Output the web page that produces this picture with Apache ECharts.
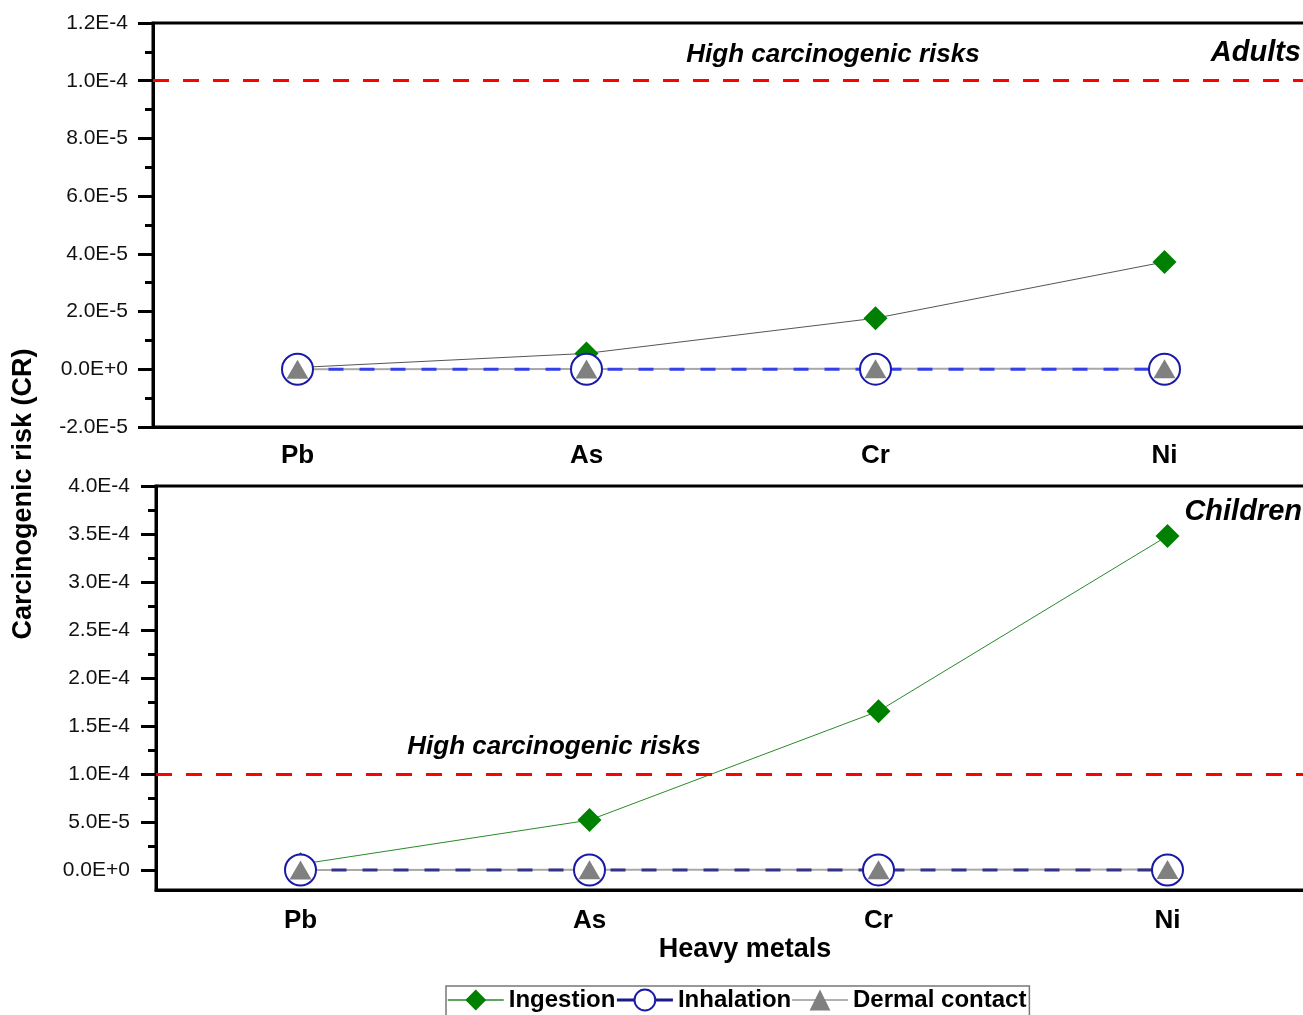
<!DOCTYPE html>
<html>
<head>
<meta charset="utf-8">
<script src="https://cdn.jsdelivr.net/npm/echarts@6/dist/echarts.min.js"></script>
<style>html,body{margin:0;padding:0;background:#fff;}#c{width:1303px;height:1015px;}</style>
</head>
<body>
<div id="c"></div>
<script>
// ---- data ----
const categories = ['Pb', 'As', 'Cr', 'Ni'];
const adultIngestion = [6e-7, 5.5e-6, 1.77e-5, 3.72e-5];
const adultInhalation = [1e-8, 2e-8, 3e-8, 2e-8];
const adultDermal = [5e-8, 1e-7, 1.5e-7, 2e-7];
const childIngestion = [6e-6, 5.2e-5, 1.655e-4, 3.48e-4];
const childInhalation = [2e-8, 5e-8, 8e-8, 6e-8];
const childDermal = [1e-7, 3e-7, 4e-7, 5e-7];
const threshold = 1e-4;
const adultTicks = [-2e-5, 0, 2e-5, 4e-5, 6e-5, 8e-5, 1e-4, 1.2e-4];
const adultMinorTicks = [-1e-5, 1e-5, 3e-5, 5e-5, 7e-5, 9e-5, 1.1e-4];
const childTicks = [0, 5e-5, 1e-4, 1.5e-4, 2e-4, 2.5e-4, 3e-4, 3.5e-4, 4e-4];
const childMinorTicks = [2.5e-5, 7.5e-5, 1.25e-4, 1.75e-4, 2.25e-4, 2.75e-4, 3.25e-4, 3.75e-4];

const FONT = '"Liberation Sans", Arial, sans-serif';
const fmt = v => Number(v).toExponential(1).toUpperCase();

function xAxes(gridIndex, margin) {
  return [
    {
      type: 'category', gridIndex, data: categories, position: 'bottom',
      axisLine: { onZero: false, lineStyle: { color: '#000', width: 3 } },
      axisTick: { alignWithLabel: true, length: 12, lineStyle: { color: '#000', width: 3 } },
      axisLabel: { margin, color: '#000', fontSize: 26, fontWeight: 'bold', fontFamily: FONT },
      splitLine: { show: false }
    },
    {
      type: 'category', gridIndex, data: categories, position: 'bottom',
      axisLine: { show: false, onZero: false },
      axisTick: { alignWithLabel: false, length: 6, lineStyle: { color: '#000', width: 3 } },
      axisLabel: { show: false },
      splitLine: { show: false }
    }
  ];
}
function yAxes(gridIndex, min, max, ticks, minor, margin) {
  return [
    {
      type: 'value', gridIndex, min, max, position: 'left',
      axisLine: { show: true, onZero: false, lineStyle: { color: '#000', width: 3 } },
      axisTick: { show: true, length: 15, customValues: ticks, lineStyle: { color: '#000', width: 3 } },
      axisLabel: { customValues: ticks, margin, color: '#111', fontSize: 21, fontFamily: FONT, formatter: fmt },
      splitLine: { show: false }
    },
    {
      type: 'value', gridIndex, min, max, position: 'left', offset: 0,
      axisLine: { show: false, onZero: false },
      axisTick: { show: true, length: 8, customValues: minor, lineStyle: { color: '#000', width: 3 } },
      axisLabel: { show: false },
      splitLine: { show: false }
    }
  ];
}

const redLine = () => ({
  silent: true, precision: 12, symbol: ['none', 'none'], label: { show: false },
  lineStyle: { color: '#ff0000', width: 3, type: [16, 14] },
  data: [{ yAxis: threshold }]
});

const diamond = () => ({ symbol: 'diamond', symbolSize: [24, 24], itemStyle: { color: '#008000' } });
const circle = () => ({ symbol: 'circle', symbolSize: 31, itemStyle: { color: '#fff', borderColor: '#1a1aa6', borderWidth: 2 } });
const tri = () => ({ symbol: 'triangle', symbolSize: [22, 19], itemStyle: { color: '#808080' } });

function groupSeries(xi, yi, ing, inh, der, ingColor, inhColor) {
  return [
    // dermal connecting line (drawn underneath everything)
    { name: 'dermal-line', type: 'line', xAxisIndex: xi, yAxisIndex: yi, data: der, z: 1, symbol: 'none',
      lineStyle: { color: '#a8a8a8', width: 2 }, silent: true },
    Object.assign({ name: 'Ingestion', type: 'line', xAxisIndex: xi, yAxisIndex: yi, data: ing, z: 3,
      lineStyle: { color: ingColor, width: 1 }, markLine: redLine() }, diamond()),
    Object.assign({ name: 'Inhalation', type: 'line', xAxisIndex: xi, yAxisIndex: yi, data: inh, z: 4,
      lineStyle: { color: inhColor, width: 3, type: [15, 16] } }, circle()),
    Object.assign({ name: 'Dermal contact', type: 'line', xAxisIndex: xi, yAxisIndex: yi, data: der, z: 5,
      lineStyle: { color: '#a8a8a8', width: 2, opacity: 0 } }, tri())
  ];
}

const series = [
  ...groupSeries(2, 2, childIngestion, childInhalation, childDermal, '#2a8a2a', '#33338c'),
  ...groupSeries(0, 0, adultIngestion, adultInhalation, adultDermal, '#555555', '#3640ea')
];

const titleStyle = (size, italic) => ({ fontSize: size, fontWeight: 'bold', fontStyle: italic ? 'italic' : 'normal', fontFamily: FONT, fill: '#000' });

const option = {
  animation: false,
  backgroundColor: '#fff',
  grid: [
    { left: 153, top: 23, width: 1156, height: 404, outerBoundsMode: 'none', containLabel: false, show: true, borderColor: '#000', borderWidth: 3, backgroundColor: 'transparent' },
    { left: 156, top: 486, width: 1156, height: 404, outerBoundsMode: 'none', containLabel: false, show: true, borderColor: '#000', borderWidth: 3, backgroundColor: 'transparent' }
  ],
  xAxis: [...xAxes(0, 16), ...xAxes(1, 18)],
  yAxis: [...yAxes(0, -2e-5, 1.2e-4, adultTicks, adultMinorTicks, 25), ...yAxes(1, -2.08e-5, 4e-4, childTicks, childMinorTicks, 26)],
  legend: {
    left: 446, top: 986, orient: 'horizontal',
    itemWidth: 56, itemHeight: 26, itemGap: 0,
    borderColor: '#777', borderWidth: 1.5, padding: [2, 3, 6, 1],
    textStyle: { fontSize: 24, fontWeight: 'bold', fontFamily: FONT, color: '#000' },
    data: [
      { name: 'Ingestion', lineStyle: { color: '#2a8a2a', width: 1.5 } },
      { name: 'Inhalation', lineStyle: { color: '#1a1a8c', width: 3, type: 'solid' } },
      { name: 'Dermal contact', lineStyle: { color: '#999999', width: 1.5, opacity: 1 } }
    ]
  },
  graphic: [
    { type: 'text', x: 833, y: 55, style: Object.assign({ text: 'High carcinogenic risks', textAlign: 'center', textVerticalAlign: 'middle' }, titleStyle(26, true)) },
    { type: 'text', x: 554, y: 747, style: Object.assign({ text: 'High carcinogenic risks', textAlign: 'center', textVerticalAlign: 'middle' }, titleStyle(26, true)) },
    { type: 'text', x: 1301, y: 53, style: Object.assign({ text: 'Adults', textAlign: 'right', textVerticalAlign: 'middle' }, titleStyle(29, true)) },
    { type: 'text', x: 1302, y: 512, style: Object.assign({ text: 'Children', textAlign: 'right', textVerticalAlign: 'middle' }, titleStyle(29, true)) },
    { type: 'text', x: 745, y: 950, style: Object.assign({ text: 'Heavy metals', textAlign: 'center', textVerticalAlign: 'middle' }, titleStyle(27, false)) },
    { type: 'text', x: 24, y: 494, rotation: Math.PI / 2, style: Object.assign({ text: 'Carcinogenic risk (CR)', textAlign: 'center', textVerticalAlign: 'middle' }, titleStyle(27, false)) }
  ],
  series
};

const chart = echarts.init(document.getElementById('c'), null, { renderer: 'canvas' });
chart.setOption(option);
</script>
</body>
</html>
